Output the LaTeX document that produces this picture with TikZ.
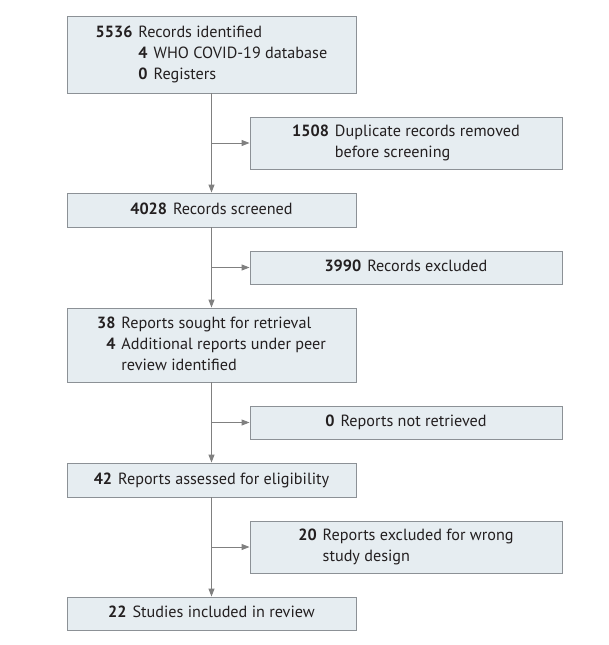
\documentclass[tikz,border=0pt]{standalone}
\usepackage{fontspec}
\setmainfont{PT Sans}
\usetikzlibrary{arrows.meta,positioning}
\definecolor{boxfill}{RGB}{230,237,241}
\definecolor{boxline}{RGB}{140,145,150}
\definecolor{flowline}{RGB}{128,128,128}
\definecolor{flowtext}{RGB}{35,31,32}
\newcommand{\prismarow}[2]{\textbf{#1} & #2}
\begin{document}
\begin{tikzpicture}[x=1pt, y=-1pt,
    flowbox/.style = {draw=boxline, fill=boxfill, line width=0.9pt, inner sep=0pt, text=flowtext, align=center,
        font=\fontsize{16.2}{21}\selectfont},
    mainbox/.style = {flowbox, minimum width=289pt},
    sidebox/.style = {flowbox, minimum width=312pt},
    arr/.style = {draw=flowline, line width=0.9pt, -{Triangle[length=8pt, width=6pt]}}]
      \useasboundingbox (0,0) rectangle (609,645);

      % main column
      \node [mainbox, minimum height=77pt] (ident) at (211.5,54.5)
          {\begin{tabular}{@{}r@{\hspace{6pt}}l@{}}
           \prismarow{5536}{Records identified}\\
           & \textbf{4}\hspace{6pt}WHO COVID-19 database\\
           & \textbf{0}\hspace{6pt}Registers
           \end{tabular}};
      \node [mainbox, minimum height=34pt] (screen) at (211.5,210)
          {\begin{tabular}{@{}r@{\hspace{6pt}}l@{}}\prismarow{4028}{Records screened}\end{tabular}};
      \node [mainbox, minimum height=74pt] (sought) at (211.5,345)
          {\begin{tabular}{@{}r@{\hspace{6pt}}l@{}}
           \prismarow{38}{Reports sought for retrieval}\\
           \prismarow{4}{Additional reports under peer}\\
           & review identified
           \end{tabular}};
      \node [mainbox, minimum height=34pt] (elig) at (211.5,480)
          {\begin{tabular}{@{}r@{\hspace{6pt}}l@{}}\prismarow{42}{Reports assessed for eligibility}\end{tabular}};
      \node [mainbox, minimum height=33pt] (incl) at (211.5,613.5)
          {\begin{tabular}{@{}r@{\hspace{6pt}}l@{}}\prismarow{22}{Studies included in review}\end{tabular}};

      % side boxes
      \node [sidebox, minimum height=52pt] (dup) at (406,143)
          {\begin{tabular}{@{}r@{\hspace{6pt}}l@{}}
           \prismarow{1508}{Duplicate records removed}\\
           & before screening
           \end{tabular}};
      \node [sidebox, minimum height=33pt] (excl) at (406,267.5)
          {\begin{tabular}{@{}r@{\hspace{6pt}}l@{}}\prismarow{3990}{Records excluded}\end{tabular}};
      \node [sidebox, minimum height=33pt] (notret) at (406,422.5)
          {\begin{tabular}{@{}r@{\hspace{6pt}}l@{}}\prismarow{0}{Reports not retrieved}\end{tabular}};
      \node [sidebox, minimum height=52pt] (wrong) at (406,547)
          {\begin{tabular}{@{}r@{\hspace{6pt}}l@{}}
           \prismarow{20}{Reports excluded for wrong}\\
           & study design
           \end{tabular}};

      % connectors
      \draw[arr] (ident) -- (screen);
      \draw[arr] (screen) -- (sought);
      \draw[arr] (sought) -- (elig);
      \draw[arr] (elig) -- (incl);

      \draw[arr] (ident.south |- dup.west) -- (dup);
      \draw[arr] (screen.south |- excl.west) -- (excl);
      \draw[arr] (sought.south |- notret.west) -- (notret);
      \draw[arr] (elig.south |- wrong.west) -- (wrong);
\end{tikzpicture}
\end{document}
